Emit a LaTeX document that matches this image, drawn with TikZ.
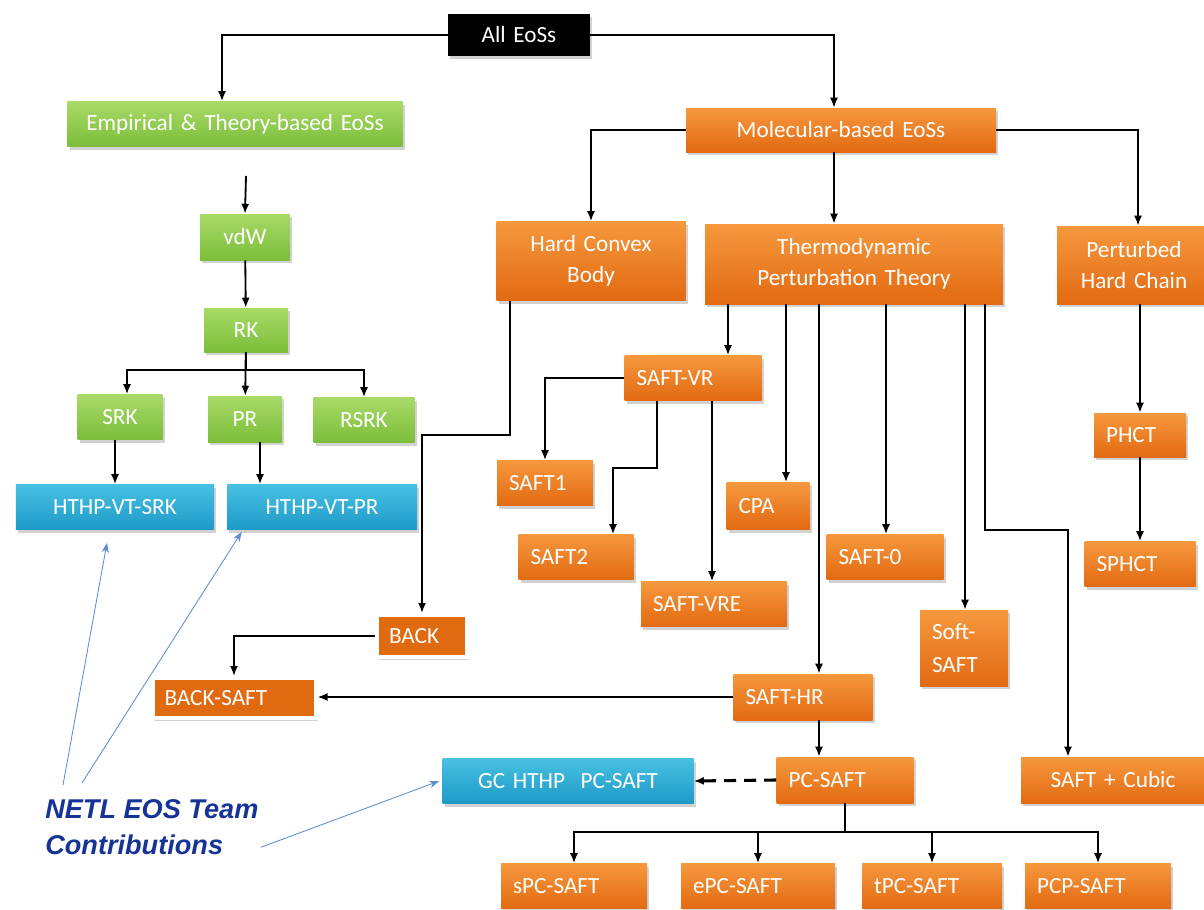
\documentclass[tikz,border=0pt]{standalone}
\usepackage{fontspec}
\setmainfont[WordSpace=0.75]{Carlito}
\newfontfamily\netlfont{Liberation Sans}
\usetikzlibrary{arrows.meta,shadows}
\definecolor{orgtop}{RGB}{246,152,62}
\definecolor{orgbot}{RGB}{226,106,18}
\definecolor{orgflat}{RGB}{224,106,16}
\definecolor{grntop}{RGB}{168,218,104}
\definecolor{grnbot}{RGB}{124,190,58}
\definecolor{blutop}{RGB}{72,192,226}
\definecolor{blubot}{RGB}{30,154,200}
\definecolor{netlblue}{RGB}{22,52,150}
\definecolor{noteblue}{RGB}{92,140,210}

\begin{document}
\begin{tikzpicture}[x=0.25mm,y=-0.25mm,
  box/.style={rectangle, inner xsep=3mm, inner ysep=0pt, minimum height=11.25mm,
    text=white, font=\fontsize{16.5}{22}\selectfont,
    drop shadow={shadow xshift=0.6mm, shadow yshift=-0.8mm, opacity=0.35}},
  ob/.style={box, top color=orgtop, bottom color=orgbot, align=left},
  oc/.style={box, top color=orgtop, bottom color=orgbot, align=center},
  fb/.style={box, fill=orgflat, draw=white, line width=1mm, align=left},
  gb/.style={box, top color=grntop, bottom color=grnbot, align=center},
  bb/.style={box, top color=blutop, bottom color=blubot, align=center},
  kb/.style={box, fill=black, align=center},
  arr/.style={-{Latex[length=2.5mm,width=2mm]}, line width=1.3pt},
  note/.style={-{Stealth[length=2.5mm,width=1.8mm]}, draw=noteblue, line width=0.6pt},
  netl/.style={align=left, inner sep=0pt, text=netlblue,
    font=\netlfont\fontsize{19.3}{26}\selectfont\bfseries\itshape}]
\useasboundingbox (0,0) rectangle (1204,909);
\clip (0,0) rectangle (1204,909);
\fill[white] (0,0) rectangle (1204,909);

\node[kb, text width=29.5mm, minimum height=10.5mm] (all) at (519,35) {All EoSs};
\node[gb, text width=77.75mm] (emp) at (235,124) {Empirical \& Theory-based EoSs};
\node[oc, text width=71.5mm, minimum height=11mm] (mol) at (841,130) {Molecular-based EoSs};

\node[gb, text width=16.5mm, minimum height=11.5mm] (vdw) at (245,237) {vdW};
\node[gb, text width=15mm, minimum height=11mm] (rk) at (246,330) {RK};
\node[gb, text width=15.25mm] (srk) at (120,417) {SRK};
\node[gb, text width=12.5mm, minimum height=11.5mm] (pr) at (245,419) {PR};
\node[gb, text width=19.25mm] (rsrk) at (364,420) {RSRK};
\node[bb, text width=43.5mm] (vtsrk) at (115,507) {HTHP-VT-SRK};
\node[bb, text width=41.5mm] (vtpr) at (322,507) {HTHP-VT-PR};

\node[oc, text width=41.25mm, minimum height=19.75mm] (hcb) at (591,261) {Hard Convex\\Body};
\node[oc, text width=68.5mm, minimum height=20mm] (tpt) at (854,264) {Thermodynamic\\Perturbation Theory};
\node[oc, text width=32.5mm, minimum height=19.5mm] (phc) at (1134,265) {Perturbed\\Hard Chain};

\node[ob, text width=28.25mm] (saftvr) at (693,378) {SAFT-VR};
\node[ob, text width=18mm] (saft1) at (545,483) {SAFT1};
\node[ob, text width=22.75mm] (saft2) at (576,557) {SAFT2};
\node[ob, text width=14.75mm, minimum height=11.75mm] (cpa) at (768,506) {CPA};
\node[ob, text width=23.25mm] (saft0) at (885,557) {SAFT-0};
\node[ob, text width=30.5mm] (saftvre) at (714,604) {SAFT-VRE};
\node[ob, text width=16mm, minimum height=19mm, font=\fontsize{16.5}{24}\selectfont] (soft) at (964,648) {Soft-\\SAFT};
\node[ob, text width=17mm, minimum height=11mm] (phct) at (1140,435) {PHCT};
\node[ob, text width=21.75mm] (sphct) at (1140,564) {SPHCT};

\node[fb, text width=16.5mm, minimum height=10.5mm] (back) at (422,636) {BACK};
\node[fb, text width=34.75mm, minimum height=10mm] (backsaft) at (234,698) {BACK-SAFT};
\node[ob, text width=28.75mm, minimum height=11.5mm] (safthr) at (803,697) {SAFT-HR};
\node[ob, text width=28.25mm, minimum height=11.5mm] (pcsaft) at (845,780) {PC-SAFT};
\node[bb, text width=56.75mm] (gc) at (568,781) {GC HTHP~ PC-SAFT};
\node[oc, text width=40mm, minimum height=11.5mm] (cubic) at (1113,780) {SAFT + Cubic};

\node[ob, text width=30.5mm] (spc) at (574,886) {sPC-SAFT};
\node[ob, text width=32.5mm] (epc) at (758,886) {ePC-SAFT};
\node[ob, text width=29mm] (tpc) at (932,886) {tPC-SAFT};
\node[ob, text width=30.5mm] (pcp) at (1098,886) {PCP-SAFT};

\node[netl, anchor=north west] (netl) at (45,799) {NETL EOS Team\\Contributions};
\coordinate (gap) at (246,176);

\draw[arr] (all.west) -| ([xshift=-3.25mm]emp.north);
\draw[arr] (all.east) -| ([xshift=-1.75mm]mol.north);
\draw[arr] (gap) -- (vdw.north);
\draw[arr] (vdw) -- (rk);
\draw[arr] (rk.south) -- ++(0,18) -| ([xshift=1.75mm]srk.north);
\draw[arr] (rk.south) -- ++(0,18) -| (rsrk.north);
\draw[arr] (rk) -- (pr);
\draw[arr] (srk.south -| vtsrk.north) -- (vtsrk.north);
\draw[arr] ([xshift=3.75mm]pr.south) -- ([xshift=3.75mm]pr.south |- vtpr.north);

\draw[arr] (mol.west) -| (hcb.north);
\draw[arr] ([xshift=-1.75mm]mol.south) -- ([xshift=-1.75mm]mol.south |- tpt.north);
\draw[arr] (mol.east) -| ([xshift=1mm]phc.north);

\draw[arr] ([xshift=-20.25mm]hcb.south) -- ++(0,134) -| (back.north);
\draw[arr] ([xshift=-31.5mm]tpt.south) -- ([xshift=-31.5mm]tpt.south |- saftvr.north);
\draw[arr] (saftvr.west) -| (saft1.north);
\draw[arr] ([xshift=-9mm]saftvr.south) -- ++(0,67) -| ([xshift=9.25mm]saft2.north);
\draw[arr] ([xshift=4.75mm]saftvr.south) -- ([xshift=4.75mm]saftvr.south |- saftvre.north);
\draw[arr] ([xshift=-17mm]tpt.south) -- ([xshift=-17mm]tpt.south |- cpa.north);
\draw[arr] ([xshift=-8.75mm]tpt.south) -- ([xshift=-8.75mm]tpt.south |- safthr.north);
\draw[arr] ([xshift=8mm]tpt.south) -- ([xshift=8mm]tpt.south |- saft0.north);
\draw[arr] ([xshift=27.75mm]tpt.south) -- ([xshift=27.75mm]tpt.south |- soft.north);
\draw[arr] ([xshift=32.75mm]tpt.south) -- ++(0,226) -| ([xshift=-11.25mm]cubic.north);
\draw[arr] (phct.north |- phc.south) -- (phct.north);
\draw[arr] (phct) -- (sphct);

\draw[arr] (back.west) -| (backsaft.north);
\draw[arr] (safthr.west) -- (safthr.west -| backsaft.east);
\draw[arr] ([xshift=4mm]safthr.south) -- ([xshift=4mm]safthr.south |- pcsaft.north);
\draw[arr, dashed, line width=2.2pt, dash pattern=on 3mm off 2mm] (pcsaft.west) -- (gc.east);
\draw[arr] (pcsaft.south) -- ++(0,29) -| (spc.north);
\draw[arr] (pcsaft.south) -- ++(0,29) -| (epc.north);
\draw[arr] (pcsaft.south) -- ++(0,29) -| (tpc.north);
\draw[arr] (pcsaft.south) -- ++(0,29) -| (pcp.north);

\draw[note] ([xshift=4.5mm,yshift=3.5mm]netl.north west) -- ([xshift=-2mm,yshift=-3.25mm]vtsrk.south);
\draw[note] ([xshift=9.25mm,yshift=4mm]netl.north west) -- ([xshift=3.75mm,yshift=-0.5mm]vtpr.south west);
\draw[note] ([xshift=0.5mm,yshift=2mm]netl.south east) -- ([xshift=-0.75mm]gc.west);
\end{tikzpicture}
\end{document}
